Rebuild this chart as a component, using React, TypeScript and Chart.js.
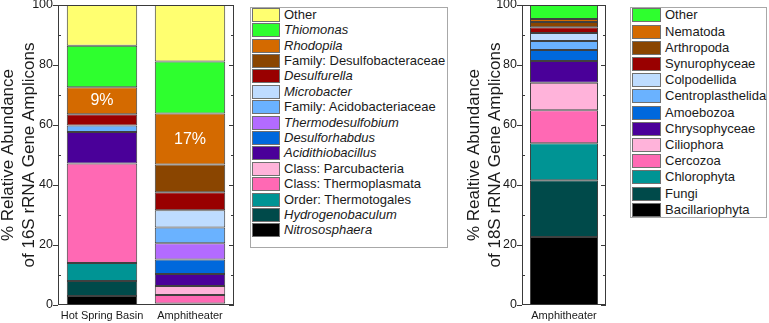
import React, { useEffect, useRef } from 'react';
import { Chart, registerables } from 'chart.js';

Chart.register(...registerables);

// ---- 16S rRNA data (taxa listed top-to-bottom as in the legend) ----
const sites16S = ['Hot Spring Basin', 'Amphitheater'];
const taxa16S = [
  'Other',
  'Thiomonas',
  'Rhodopila',
  'Family: Desulfobacteraceae',
  'Desulfurella',
  'Microbacter',
  'Family: Acidobacteriaceae',
  'Thermodesulfobium',
  'Desulforhabdus',
  'Acidithiobacillus',
  'Class: Parcubacteria',
  'Class: Thermoplasmata',
  'Order: Thermotogales',
  'Hydrogenobaculum',
  'Nitrososphaera',
];
const italic16S = [false, true, true, false, true, true, false, true, true, true, false, false, false, true, true];
const colors16S = [
  '#FFFF70', '#2EFF2E', '#D46A00', '#8A4500', '#990000',
  '#BEDCFF', '#6AB2FF', '#B36BFF', '#0068DC', '#4A0099',
  '#FFB3DA', '#FF69B4', '#009494', '#004A4A', '#000000',
];
const hotSpringBasin16S = [13.6, 13.8, 9, 0, 3.8, 0, 2.1, 0, 0, 10.5, 0, 33.2, 6.0, 5.0, 3.0];
const amphitheater16S = [18.8, 17.4, 17, 9.2, 6.0, 5.8, 5.2, 5.4, 4.9, 4.0, 3.0, 2.8, 0.5, 0, 0];
const labelledTaxa16S = ['Rhodopila'];

// ---- 18S rRNA data ----
const sites18S = ['Amphitheater'];
const taxa18S = [
  'Other',
  'Nematoda',
  'Arthropoda',
  'Synurophyceae',
  'Colpodellida',
  'Centroplasthelida',
  'Amoebozoa',
  'Chrysophyceae',
  'Ciliophora',
  'Cercozoa',
  'Chlorophyta',
  'Fungi',
  'Bacillariophyta',
];
const colors18S = [
  '#2EFF2E', '#D46A00', '#8A4500', '#990000', '#BEDCFF',
  '#6AB2FF', '#0068DC', '#4A0099', '#FFB3DA', '#FF69B4',
  '#009494', '#004A4A', '#000000',
];
const amphitheater18S = [4.7, 1.0, 1.7, 1.9, 2.7, 3.0, 3.7, 7.2, 9.2, 11.0, 12.3, 18.9, 22.7];

const yTicks = [0, 20, 40, 60, 80, 100];

const FONT = "'Liberation Sans', Arial, Helvetica, sans-serif";
const AXIS_COLOR = '#3a3a3a';
const TEXT_COLOR = '#1a1a1a';

// Box around the plot with outward major ticks and inward minor ticks.
const framePlugin = {
  id: 'frame',
  afterDraw(chart: any) {
    const { ctx, chartArea: a, scales } = chart;
    const y = scales.y;
    ctx.save();
    ctx.strokeStyle = AXIS_COLOR;
    ctx.lineWidth = 1;
    ctx.strokeRect(a.left + 0.5, a.top + 0.5, a.right - a.left - 1, a.bottom - a.top - 1);
    ctx.beginPath();
    yTicks.forEach((v, i) => {
      const py = Math.round(y.getPixelForValue(v)) + 0.5;
      ctx.moveTo(a.left - 5, py);
      ctx.lineTo(a.left, py);
      ctx.moveTo(a.right, py);
      ctx.lineTo(a.right - 5, py);
      if (i < yTicks.length - 1) {
        const mid = (v + yTicks[i + 1]) / 2;
        const my = Math.round(y.getPixelForValue(mid)) + 0.5;
        ctx.moveTo(a.left, my);
        ctx.lineTo(a.left + 3, my);
        ctx.moveTo(a.right, my);
        ctx.lineTo(a.right - 3, my);
      }
    });
    ctx.stroke();
    ctx.restore();
  },
};

// Percentage printed in the middle of selected stacked segments.
const segmentLabelPlugin = {
  id: 'segmentLabels',
  afterDatasetsDraw(chart: any, _args: any, opts: any) {
    const names: string[] = (opts && opts.taxa) || [];
    const { ctx } = chart;
    ctx.save();
    ctx.fillStyle = '#ffffff';
    ctx.font = `16px ${FONT}`;
    ctx.textAlign = 'center';
    ctx.textBaseline = 'middle';
    chart.data.datasets.forEach((ds: any, i: number) => {
      if (!names.includes(ds.label)) return;
      const meta = chart.getDatasetMeta(i);
      meta.data.forEach((el: any, j: number) => {
        const v = ds.data[j];
        if (v == null) return;
        const { x, y, base } = el.getProps(['x', 'y', 'base'], true);
        ctx.fillText(`${Math.round(v)}%`, x, (y + base) / 2);
      });
    });
    ctx.restore();
  },
};

function buildConfig(
  sites: string[],
  taxa: string[],
  colors: string[],
  series: number[][],
  titleLines: string[],
  axisWidth: number,
  rightPad: number,
  barPct: number,
  labelled: string[],
): any {
  // legend order is top-to-bottom; stack from the bottom up
  const datasets = taxa
    .map((name, t) => ({
      label: name,
      data: series.map((s) => (s[t] === 0 ? null : s[t])),
      backgroundColor: colors[t],
      borderColor: 'rgba(30,30,30,0.85)',
      borderWidth: 1,
      borderSkipped: false,
      barPercentage: barPct,
      categoryPercentage: 1,
    }))
    .reverse();

  return {
    type: 'bar',
    data: { labels: sites, datasets },
    plugins: [framePlugin, segmentLabelPlugin],
    options: {
      animation: false,
      responsive: false,
      maintainAspectRatio: false,
      layout: { padding: { top: 5, right: rightPad, left: 0, bottom: 0 } },
      plugins: {
        legend: { display: false },
        tooltip: { enabled: false },
        segmentLabels: { taxa: labelled },
      },
      scales: {
        x: {
          stacked: true,
          grid: { display: false, drawTicks: false },
          border: { display: false },
          ticks: { color: TEXT_COLOR, font: { family: FONT, size: 11 }, padding: 4, maxRotation: 0 },
          afterFit: (s: any) => {
            s.height = 18;
            s.paddingLeft = 0;
            s.paddingRight = 0;
          },
        },
        y: {
          stacked: true,
          min: 0,
          max: 100,
          afterBuildTicks: (s: any) => {
            s.ticks = yTicks.map((v) => ({ value: v }));
          },
          grid: { display: false, drawTicks: false },
          border: { display: false },
          ticks: { color: TEXT_COLOR, font: { family: FONT, size: 12.5 }, padding: 5 },
          title: {
            display: true,
            text: titleLines,
            color: TEXT_COLOR,
            font: { family: FONT, size: 17, lineHeight: 1.24 },
            padding: { top: -2.5, bottom: 0 },
          },
          afterFit: (s: any) => {
            s.width = axisWidth;
            s.paddingTop = 0;
            s.paddingBottom = 0;
          },
        },
      },
    },
  };
}

function StackedChart(props: { left: number; width: number; config: () => any }) {
  const ref = useRef<HTMLCanvasElement | null>(null);
  useEffect(() => {
    if (!ref.current) return;
    const chart = new Chart(ref.current, props.config());
    return () => chart.destroy();
  }, []);
  return (
    <canvas
      ref={ref}
      width={props.width}
      height={323}
      style={{ position: 'absolute', left: props.left, top: 0, width: props.width, height: 323 }}
    />
  );
}

function Legend(props: {
  left: number;
  top: number;
  width: number;
  height: number;
  rowHeight: number;
  firstCenter: number;
  swatchW: number;
  swatchH: number;
  textLeft: number;
  names: string[];
  colors: string[];
  italic?: boolean[];
}) {
  const p = props;
  return (
    <>
      <div
        style={{
          position: 'absolute',
          left: p.left,
          top: p.top,
          width: p.width,
          height: p.height,
          border: '1px solid #a8a8a8',
          boxSizing: 'border-box',
        }}
      />
      {p.names.map((name, i) => {
        const cy = p.firstCenter + i * p.rowHeight;
        return (
          <React.Fragment key={name}>
            <div
              style={{
                position: 'absolute',
                left: p.left + 2,
                top: cy - p.swatchH / 2,
                width: p.swatchW,
                height: p.swatchH,
                background: p.colors[i],
                border: '1px solid #707070',
                boxSizing: 'border-box',
              }}
            />
            <div
              style={{
                position: 'absolute',
                left: p.textLeft,
                top: cy - 8,
                height: 16,
                lineHeight: '16px',
                fontFamily: FONT,
                fontSize: 13,
                color: TEXT_COLOR,
                whiteSpace: 'nowrap',
                fontStyle: p.italic && p.italic[i] ? 'italic' : 'normal',
              }}
            >
              {name}
            </div>
          </React.Fragment>
        );
      })}
    </>
  );
}

export default function App() {
  return (
    <div style={{ position: 'absolute', left: 0, top: 0, width: 769, height: 323, background: '#ffffff', overflow: 'hidden' }}>
      <StackedChart
        left={0}
        width={245}
        config={() =>
          buildConfig(
            sites16S,
            taxa16S,
            colors16S,
            [hotSpringBasin16S, amphitheater16S],
            ['% Relative Abundance', 'of 16S rRNA Gene Amplicons'],
            58,
            11,
            0.8,
            labelledTaxa16S,
          )
        }
      />
      <Legend
        left={250}
        top={7}
        width={198}
        height={241}
        rowHeight={15.4}
        firstCenter={14.7}
        swatchW={28}
        swatchH={14}
        textLeft={284}
        names={taxa16S}
        colors={colors16S}
        italic={italic16S}
      />
      <StackedChart
        left={466}
        width={149}
        config={() =>
          buildConfig(
            sites18S,
            taxa18S,
            colors18S,
            [amphitheater18S],
            ['% Realtive Abundance', 'of 18S rRNA Gene Amplicons'],
            56,
            9,
            0.81,
            [],
          )
        }
      />
      <Legend
        left={630}
        top={7}
        width={137}
        height={211}
        rowHeight={16.2}
        firstCenter={15.3}
        swatchW={29}
        swatchH={14}
        textLeft={665}
        names={taxa18S}
        colors={colors18S}
      />
    </div>
  );
}
